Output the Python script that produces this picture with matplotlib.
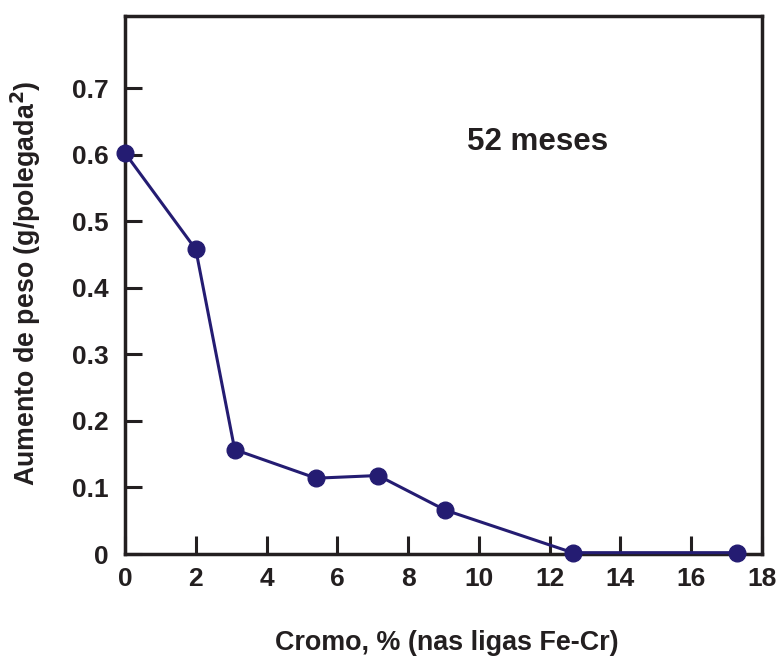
import matplotlib.pyplot as plt

cromo = [0.0, 2.0, 3.1, 5.4, 7.15, 9.05, 12.65, 17.3]
ganho = [0.603, 0.458, 0.157, 0.114, 0.118, 0.066, 0.002, 0.002]

x_ticks = [0, 2, 4, 6, 8, 10, 12, 14, 16, 18]
y_ticks = [0, 0.1, 0.2, 0.3, 0.4, 0.5, 0.6, 0.7]
y_labels = ['0', '0.1', '0.2', '0.3', '0.4', '0.5', '0.6', '0.7']

plt.rcParams['font.family'] = ['Liberation Sans', 'DejaVu Sans']
plt.rcParams['font.weight'] = 'bold'
plt.rcParams['mathtext.default'] = 'bf'

fig = plt.figure(figsize=(7.76, 6.57), dpi=100)
ax = fig.add_axes([125 / 776, 1 - 554 / 657, (762 - 125) / 776, (554 - 16) / 657])

cor = '#241c72'
ax.plot(cromo, ganho, color=cor, linewidth=2.2, marker='o', markersize=12,
        clip_on=False, zorder=3)

ax.set_xlim(0, 18)
ax.set_ylim(0, 0.809)
ax.set_xticks(x_ticks)
ax.set_yticks(y_ticks)
ax.set_yticklabels(y_labels)

for s in ax.spines.values():
    s.set_linewidth(2.5)
    s.set_color('#231f20')
ax.tick_params(axis='both', direction='in', width=2.2, color='#231f20',
               labelsize=19, labelcolor='#231f20')
ax.tick_params(axis='x', length=13, pad=9)
ax.tick_params(axis='y', length=12, pad=12)

ax.text(0.647, 0.766, '52 meses', transform=ax.transAxes, fontsize=22.5,
        fontweight='bold', color='#231f20', ha='center', va='center')

fig.text(447 / 776, 1 - 643 / 657, 'Cromo, % (nas ligas Fe-Cr)', fontsize=19.4,
         fontweight='bold', color='#231f20', ha='center', va='center')
fig.text(26 / 776, 1 - 283 / 657, 'Aumento de peso (g/polegada$^2$)',
         fontsize=19.3, fontweight='bold', color='#231f20', rotation=90,
         ha='center', va='center')

fig.savefig('out.png', dpi=100)
